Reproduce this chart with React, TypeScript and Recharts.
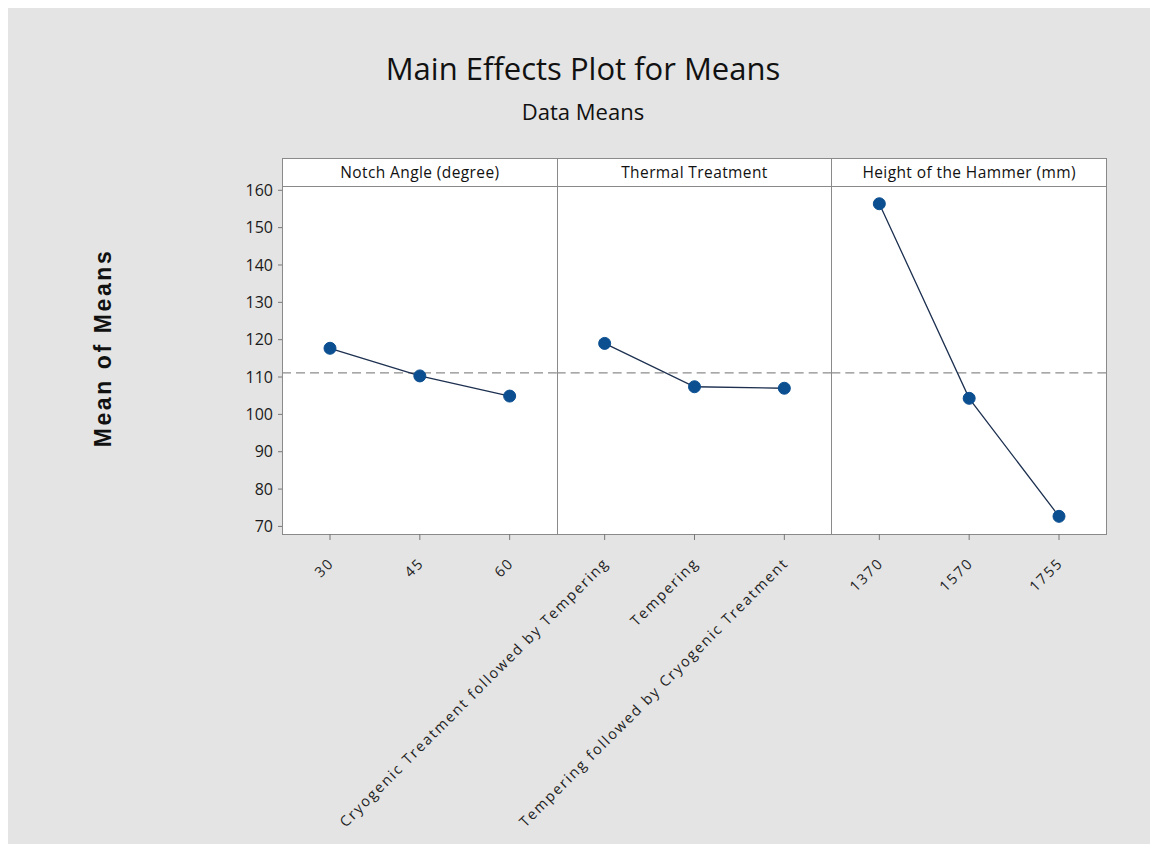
import { Line, LineChart, ReferenceLine, XAxis, YAxis } from 'recharts'

// factor levels and the mean response at each level
const notchLevels = ['30', '45', '60']
const notchMeans = [117.7, 110.3, 104.9]
const thermalLevels = [
  'Cryogenic Treatment followed by Tempering',
  'Tempering',
  'Tempering followed by Cryogenic Treatment',
]
const thermalMeans = [119.0, 107.4, 107.0]
const hammerLevels = ['1370', '1570', '1755']
const hammerMeans = [156.4, 104.3, 72.7]
const factorNames = ['Notch Angle (degree)', 'Thermal Treatment', 'Height of the Hammer (mm)']
const grandMean = 111.1
const yTicks = [70, 80, 90, 100, 110, 120, 130, 140, 150, 160]
const yDomain = [67.97, 161.15]

const W = 1150
const H = 836
const PLOT_LEFT = 274
const PLOT_RIGHT = 1098
const HEAD_TOP = 150
const PLOT_TOP = 178
const PLOT_BOTTOM = 526
const PANEL_W = (PLOT_RIGHT - PLOT_LEFT) / 3
const Y_AXIS_W = 190
const X_AXIS_H = 30
const FONT = '"Open Sans", "Noto Sans", sans-serif'
const BLUE = '#0b4f91'
const BORDER = '#8a8a8a'

function XTick({ x, y, payload }: any) {
  return (
    <g transform={`translate(${x + 5},${y + 22})`}>
      <text
        textAnchor="end"
        transform="rotate(-45)"
        fill="#222"
        fontSize={14.5}
        letterSpacing={1.8}
        fontFamily={FONT}
      >
        {payload.value}
      </text>
    </g>
  )
}

function YTitle({ viewBox }: any) {
  const cx = viewBox.x + 19
  const cy = viewBox.y + viewBox.height / 2 - 12
  return (
    <text
      x={cx}
      y={cy}
      transform={`rotate(-90 ${cx} ${cy})`}
      textAnchor="middle"
      fontSize={23}
      fontWeight="bold"
      letterSpacing={2.6}
      fill="#111"
      fontFamily='"Liberation Sans", Arial, sans-serif'
    >
      Mean of Means
    </text>
  )
}

function Panel({ index, levels, means }: { index: number; levels: string[]; means: number[] }) {
  const data = levels.map((level, i) => ({ level, mean: means[i] }))
  const left = PLOT_LEFT + index * PANEL_W
  const right = left + PANEL_W
  const showY = index === 0
  return (
    <div style={{ position: 'absolute', left: 0, top: 0 }}>
      <LineChart
        width={W}
        height={H}
        data={data}
        margin={{
          top: PLOT_TOP,
          bottom: H - PLOT_BOTTOM - X_AXIS_H,
          left: left - (showY ? Y_AXIS_W : 0),
          right: W - right,
        }}
      >
        <XAxis
          dataKey="level"
          type="category"
          height={X_AXIS_H}
          padding={{ left: 48, right: 47 }}
          axisLine={false}
          tickLine={{ stroke: '#777' }}
          tickSize={6}
          interval={0}
          tick={<XTick />}
        />
        <YAxis
          type="number"
          domain={yDomain}
          ticks={yTicks}
          allowDataOverflow
          hide={!showY}
          width={Y_AXIS_W}
          axisLine={false}
          tickLine={{ stroke: '#777' }}
          tickSize={4}
          tickMargin={5}
          tick={{ fontSize: 16, fill: '#1a1a1a', fontFamily: FONT }}
          label={showY ? { content: <YTitle /> } : undefined}
        />
        <ReferenceLine y={grandMean} stroke="#8c8c8c" strokeDasharray="9 5" strokeWidth={1.2} />
        <Line
          dataKey="mean"
          stroke="#1d3050"
          strokeWidth={1.3}
          dot={{ r: 6, fill: BLUE, stroke: BLUE, strokeWidth: 1 }}
          activeDot={false}
          isAnimationActive={false}
        />
      </LineChart>
    </div>
  )
}

export default function App() {
  const panels = [
    { levels: notchLevels, means: notchMeans },
    { levels: thermalLevels, means: thermalMeans },
    { levels: hammerLevels, means: hammerMeans },
  ]
  return (
    <div
      style={{
        position: 'relative',
        width: W,
        height: H,
        background: '#e4e4e4',
        fontFamily: FONT,
        overflow: 'hidden',
      }}
    >
      <div
        style={{
          position: 'absolute',
          top: 40,
          width: W,
          textAlign: 'center',
          fontSize: 31,
          lineHeight: '40px',
          color: '#111',
        }}
      >
        Main Effects Plot for Means
      </div>
      <div
        style={{
          position: 'absolute',
          top: 88,
          width: W,
          textAlign: 'center',
          fontSize: 22,
          lineHeight: '30px',
          color: '#111',
        }}
      >
        Data Means
      </div>

      {factorNames.map((name, i) => (
        <div key={name}>
          <div
            style={{
              position: 'absolute',
              left: PLOT_LEFT + i * PANEL_W,
              top: HEAD_TOP,
              width: PANEL_W + 1,
              height: PLOT_TOP - HEAD_TOP + 1,
              boxSizing: 'border-box',
              border: `1px solid ${BORDER}`,
              background: '#fff',
              textAlign: 'center',
              fontSize: 15.5,
              letterSpacing: 0.4,
              lineHeight: `${PLOT_TOP - HEAD_TOP - 1}px`,
              color: '#111',
            }}
          >
            {name}
          </div>
          <div
            style={{
              position: 'absolute',
              left: PLOT_LEFT + i * PANEL_W,
              top: PLOT_TOP,
              width: PANEL_W + 1,
              height: PLOT_BOTTOM - PLOT_TOP + 1,
              boxSizing: 'border-box',
              border: `1px solid ${BORDER}`,
              background: '#fff',
            }}
          />
        </div>
      ))}

      {panels.map((p, i) => (
        <Panel key={i} index={i} levels={p.levels} means={p.means} />
      ))}
    </div>
  )
}
